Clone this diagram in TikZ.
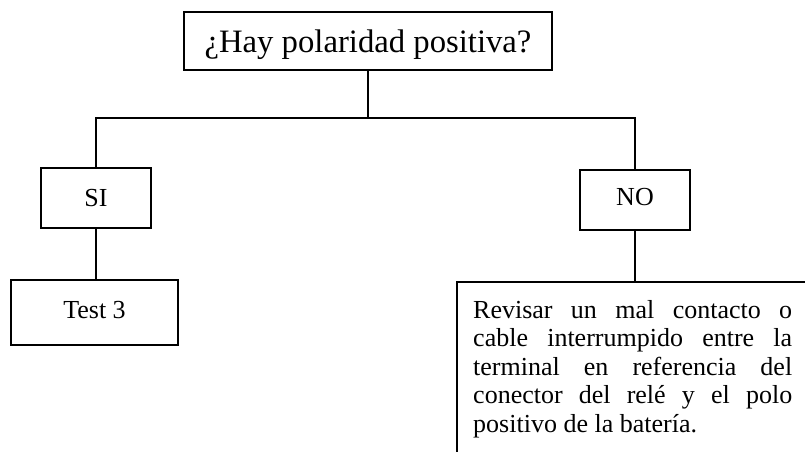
\documentclass[tikz,border=0pt]{standalone}
\usepackage{fontspec}
\setmainfont{Liberation Serif}
\begin{document}
\begin{tikzpicture}[x=1pt,y=-1pt,
  box/.style={draw, line width=1.1pt, inner sep=0pt, align=center, font=\fontsize{26}{28.5}\selectfont},
  conn/.style={line width=1.1pt}]
\useasboundingbox (0,0) rectangle (805,451);
\node[box, minimum width=368pt, minimum height=58pt, text height=23pt, text depth=0pt, font=\fontsize{32.7}{36}\selectfont] (q) at (368,41) {¿Hay polaridad positiva?};
\node[box, minimum width=110pt, minimum height=60pt] (si) at (96,198) {SI};
\node[box, minimum width=110pt, minimum height=60pt, text height=11.5pt, text depth=0pt] (no) at (635,200) {NO};
\node[box, minimum width=167pt, minimum height=65pt, text height=12pt, text depth=0pt] (t3) at (94.5,312.5) {Test 3};
\coordinate (hl) at (95,118);
\coordinate (bl) at (457,282);
\coordinate (brt) at (806,282);
\coordinate (blb) at (457,452);
\node[anchor=north west, inner sep=0pt, text width=319pt, align=justify,
  font=\fontsize{26}{28.5}\selectfont] (rev) at (473,300)
  {\hyphenpenalty=10000\tolerance=10000 Revisar un mal contacto o\linebreak cable interrumpido entre la\linebreak terminal en referencia del\linebreak conector del relé y el polo\linebreak positivo de la batería.};
\draw[conn] (q.south) -- (q.south |- hl);
\draw[conn] (si.north) |- (no.north |- hl) -- (no.north);
\draw[conn] (si.south) -- (si.south |- t3.north);
\draw[conn] (no.south) -- (no.south |- bl);
\draw[conn] (brt) -- (bl) -- (blb);
\end{tikzpicture}
\end{document}
